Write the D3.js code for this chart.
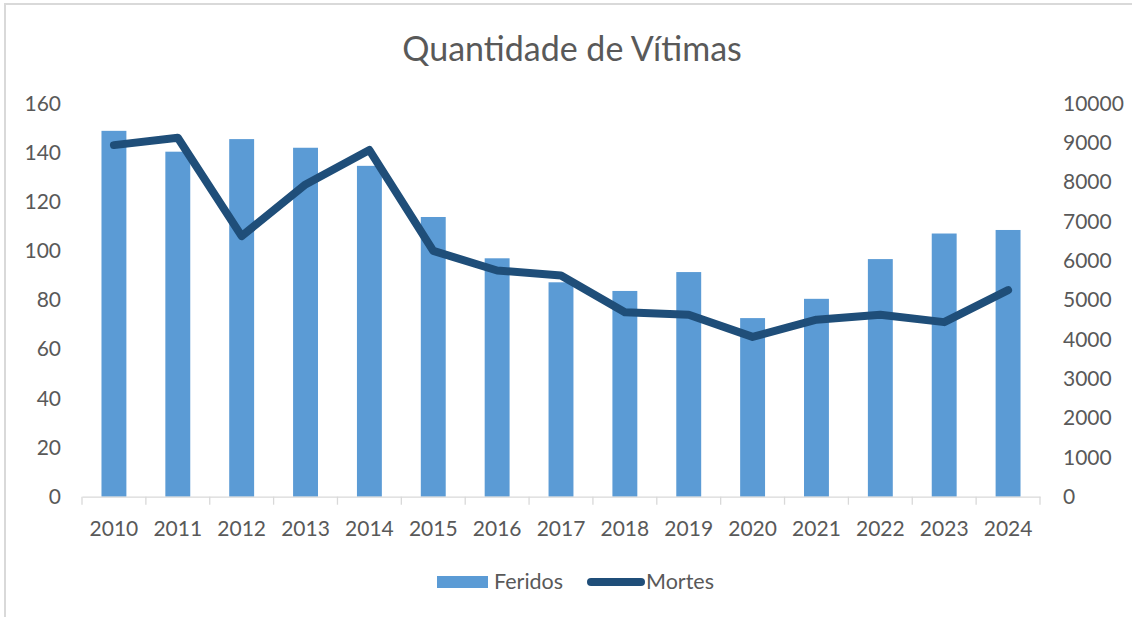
<!DOCTYPE html>
<html>
<head>
<meta charset="utf-8">
<script src="https://cdn.jsdelivr.net/npm/d3@7"></script>
<style>
  body { margin: 0; background: #fff; }
  text { font-family: Lato, "Open Sans", sans-serif; fill: #595959; }
</style>
</head>
<body>
<div id="chart"></div>
<script>
// data
var years = ["2010", "2011", "2012", "2013", "2014", "2015", "2016", "2017", "2018", "2019", "2020", "2021", "2022", "2023", "2024"];
var feridos = [9300, 8770, 9090, 8870, 8410, 7110, 6060, 5450, 5230, 5710, 4540, 5030, 6040, 6690, 6780];
var mortes = [143, 146, 106, 127, 141, 100, 92, 90, 75, 74, 65, 72, 74, 71, 84];
var leftTicks = [0, 20, 40, 60, 80, 100, 120, 140, 160];
var rightTicks = [0, 1000, 2000, 3000, 4000, 5000, 6000, 7000, 8000, 9000, 10000];

var svgWidth = 1132;
var svgHeight = 617;

var plot = { left: 82, right: 1040, top: 103.3, bottom: 496.7 };

var svg = d3.select("#chart")
  .append("svg")
  .attr("width", svgWidth)
  .attr("height", svgHeight);

svg.append("rect")
  .attr("width", svgWidth)
  .attr("height", svgHeight)
  .attr("fill", "#fff");

// chart frame (only left and top edges are visible)
svg.append("path")
  .attr("d", "M5,617 V4 H1132")
  .attr("fill", "none")
  .attr("stroke", "#d9d9d9")
  .attr("stroke-width", 2);

// scales
var x = d3.scaleBand()
  .domain(years)
  .range([plot.left, plot.right])
  .paddingInner(0.61)
  .paddingOuter(0.305);

var xBand = d3.scaleBand()
  .domain(years)
  .range([plot.left, plot.right]);

var yLeft = d3.scaleLinear().domain([0, 160]).range([plot.bottom, plot.top]);
var yRight = d3.scaleLinear().domain([0, 10000]).range([plot.bottom, plot.top]);

// title
svg.append("text")
  .attr("x", 572)
  .attr("y", 61)
  .attr("text-anchor", "middle")
  .style("font-size", "34px")
  .text("Quantidade de Vítimas");

// bars
svg.append("g")
  .selectAll("rect")
  .data(feridos)
  .enter().append("rect")
    .attr("x", function(d, i) { return x(years[i]); })
    .attr("y", function(d) { return yRight(d); })
    .attr("width", x.bandwidth())
    .attr("height", function(d) { return yRight(0) - yRight(d); })
    .attr("fill", "#5b9bd5");

// x axis
var bottomAxis = d3.axisBottom(xBand).tickSize(0).tickPadding(0);
var xAxis = svg.append("g")
  .attr("transform", "translate(0," + plot.bottom + ")")
  .call(bottomAxis);
xAxis.select(".domain").attr("stroke", "#d9d9d9").attr("stroke-width", 1.3);
xAxis.selectAll("text")
  .attr("dy", "0")
  .attr("y", 39)
  .style("font-size", "21px")
  .attr("fill", "#595959");

// category boundary ticks
xAxis.selectAll(".sep")
  .data(years.concat(["end"]))
  .enter().append("line")
    .attr("class", "sep")
    .attr("x1", function(d, i) { return plot.left + i * xBand.step(); })
    .attr("x2", function(d, i) { return plot.left + i * xBand.step(); })
    .attr("y1", 0)
    .attr("y2", 8)
    .attr("stroke", "#d9d9d9")
    .attr("stroke-width", 1.3);

// left axis
var leftAxis = d3.axisLeft(yLeft).tickValues(leftTicks).tickSize(0).tickPadding(0);
var lAxis = svg.append("g")
  .attr("transform", "translate(61,0)")
  .call(leftAxis);
lAxis.select(".domain").remove();
lAxis.selectAll("text").style("font-size", "21px").attr("fill", "#595959");

// right axis
var rightAxis = d3.axisRight(yRight).tickValues(rightTicks).tickFormat(d3.format("d")).tickSize(0).tickPadding(0);
var rAxis = svg.append("g")
  .attr("transform", "translate(1063,0)")
  .call(rightAxis);
rAxis.select(".domain").remove();
rAxis.selectAll("text").style("font-size", "21px").attr("fill", "#595959");

// line
var line = d3.line()
  .x(function(d, i) { return xBand(years[i]) + xBand.bandwidth() / 2; })
  .y(function(d) { return yLeft(d); });

svg.append("path")
  .datum(mortes)
  .attr("d", line)
  .attr("fill", "none")
  .attr("stroke", "#1f4e79")
  .attr("stroke-width", 8)
  .attr("stroke-linejoin", "round")
  .attr("stroke-linecap", "round");

// legend
var legend = svg.append("g");
legend.append("rect")
  .attr("x", 437).attr("y", 576)
  .attr("width", 51).attr("height", 12)
  .attr("fill", "#5b9bd5");
legend.append("text")
  .attr("x", 494).attr("y", 589)
  .style("font-size", "21.5px")
  .text("Feridos");
legend.append("line")
  .attr("x1", 591).attr("x2", 641)
  .attr("y1", 582).attr("y2", 582)
  .attr("stroke", "#1f4e79")
  .attr("stroke-width", 8)
  .attr("stroke-linecap", "round");
legend.append("text")
  .attr("x", 646).attr("y", 589)
  .style("font-size", "21.5px")
  .text("Mortes");
</script>
</body>
</html>
